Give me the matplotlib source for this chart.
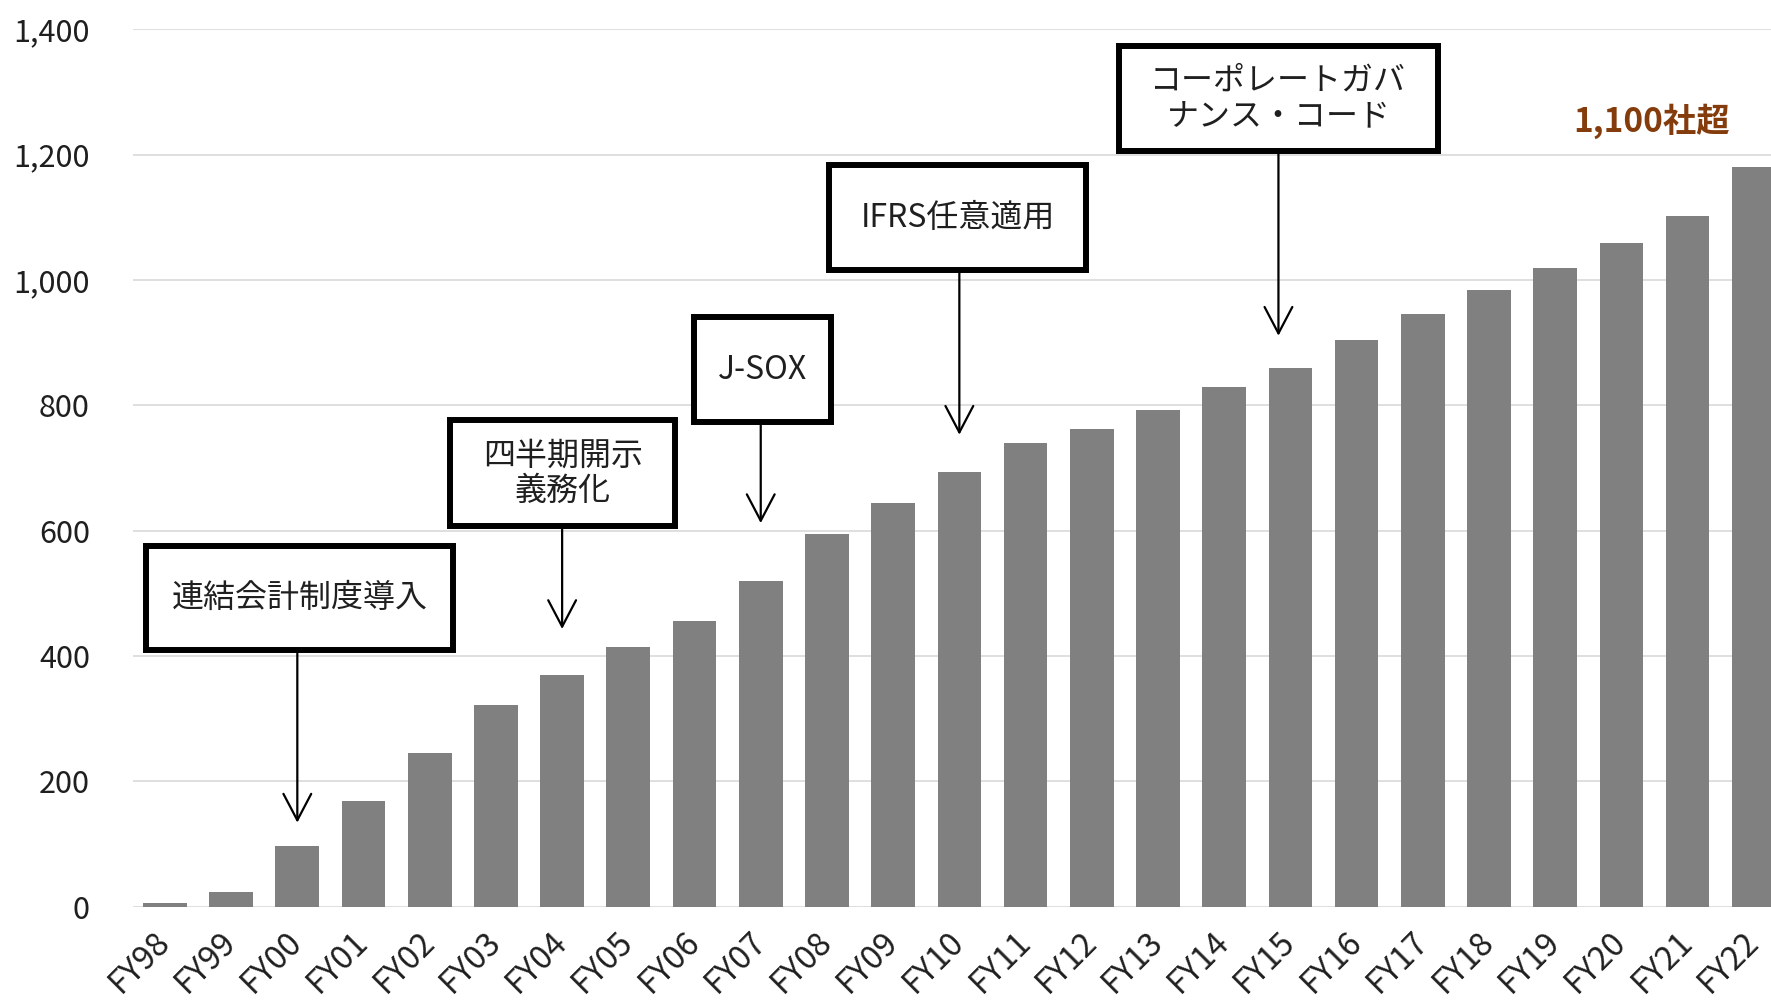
import matplotlib
matplotlib.use("Agg")
import matplotlib.pyplot as plt
from matplotlib.patches import Rectangle

plt.rcParams['font.family'] = ['Noto Sans CJK JP', 'DejaVu Sans']

# ---------------- data ----------------
years = ['FY98', 'FY99', 'FY00', 'FY01', 'FY02', 'FY03', 'FY04', 'FY05', 'FY06',
         'FY07', 'FY08', 'FY09', 'FY10', 'FY11', 'FY12', 'FY13', 'FY14', 'FY15',
         'FY16', 'FY17', 'FY18', 'FY19', 'FY20', 'FY21', 'FY22']
companies = [5, 23, 96, 168, 245, 321, 370, 414, 456,
             519, 595, 644, 694, 740, 762, 792, 829, 859,
             904, 945, 984, 1019, 1059, 1102, 1180]
y_ticks = [0, 200, 400, 600, 800, 1000, 1200, 1400]

events = ['連結会計制度導入', '四半期開示\n義務化', 'J-SOX', 'IFRS任意適用',
          'コーポレートガバ\nナンス・コード']
event_years = ['FY00', 'FY04', 'FY07', 'FY10', 'FY15']
headline = '1,100社超'

# box layout for each event: (left, right, bottom, top, arrow x offset, arrow tip)
boxes = [
    (-0.326, 4.397, 404, 581, 0.0, 134),
    (4.266, 7.751, 602, 781, 0.0, 443),
    (7.952, 10.112, 768, 945, 0.0, 612),
    (9.987, 13.964, 1011, 1188, 0.0, 753),
    (14.367, 19.272, 1201, 1378, -0.18, 911),
]

fig = plt.figure(figsize=(17.71, 10.01), dpi=100)
ax = fig.add_axes([0.0751, 0.0943, 0.9249, 0.8764])

x = list(range(len(years)))
ax.bar(x, companies, width=0.66, color='#808080', zorder=2)

ax.set_xlim(-0.482, 24.26)
ax.set_ylim(0, 1400)
ax.set_yticks(y_ticks)
ax.set_yticklabels([f'{v:,}' for v in y_ticks])
ax.set_xticks(x)
ax.set_xticklabels(years, rotation=45, ha='right', va='center', rotation_mode='anchor')

ax.tick_params(axis='y', length=0, pad=31, labelsize=22, labelcolor='#1f1f1f')
ax.tick_params(axis='x', length=0, pad=22, labelsize=23.5, labelcolor='#1f1f1f')

ax.grid(axis='y', color='#d9d9d9', linewidth=1.2, zorder=0)
for s in ax.spines.values():
    s.set_visible(False)

# event boxes with arrows
for text, yr, (l, r, b, t, dx, tip) in zip(events, event_years, boxes):
    xi = years.index(yr) + dx
    ins_x, ins_y = 0.045, 4.8
    ax.add_patch(Rectangle((l + ins_x, b + ins_y), (r - l) - 2 * ins_x, (t - b) - 2 * ins_y,
                           facecolor='white', edgecolor='black', linewidth=4.3,
                           zorder=5, clip_on=False))
    ax.text((l + r) / 2, (b + t) / 2, text, ha='center', va='center',
            fontsize=23, color='#1f1f1f', linespacing=1.15, zorder=6)
    ax.annotate('', xy=(xi, tip), xytext=(xi, b),
                arrowprops=dict(arrowstyle='->,head_length=0.95,head_width=0.5',
                                mutation_scale=20, lw=1.6, color='black',
                                shrinkA=0, shrinkB=0),
                zorder=4)

ax.text(22.45, 1253, headline, ha='center', va='center', fontsize=24,
        fontweight='bold', color='#843c0c', zorder=6)

fig.savefig('out.png', dpi=100)
